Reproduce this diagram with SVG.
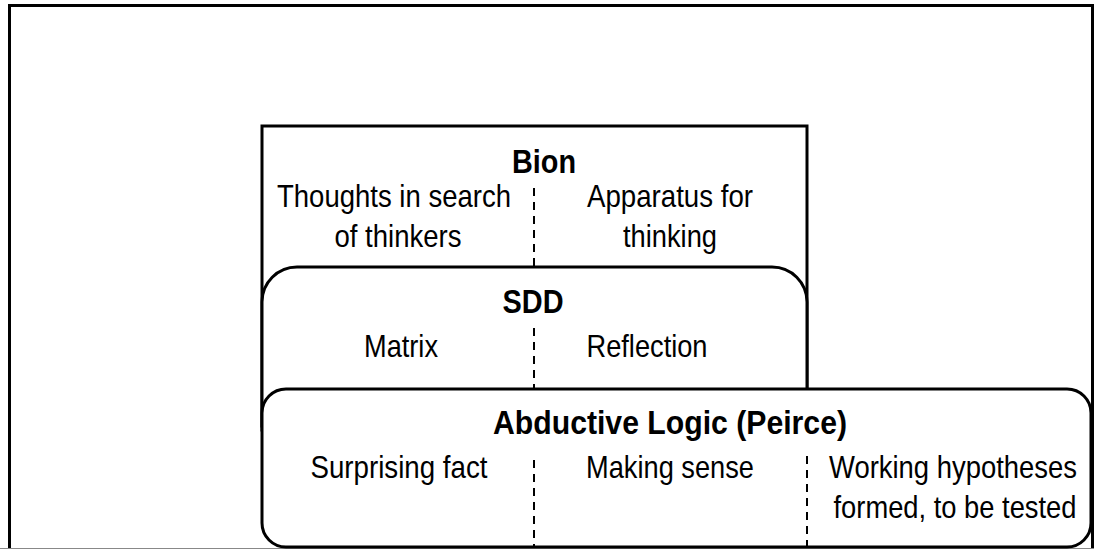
<svg xmlns="http://www.w3.org/2000/svg" width="1094" height="549" viewBox="0 0 1094 549">
<style>
.box{fill:#fff;stroke:#000;stroke-width:3}
.div{stroke:#000;stroke-width:2;stroke-dasharray:8 6;fill:none}
text{font-family:"Liberation Sans",Arial,sans-serif;fill:#000;text-anchor:middle}
.t{font-size:32px}
.h{font-size:33px;font-weight:bold}
</style>
<rect x="0" y="0" width="1094" height="549" fill="#fff"/>
<g id="frame">
<path d="M9.5,549 V5.5 H1092.5 V549" fill="none" stroke="#000" stroke-width="3"/>
<line x1="0" y1="548.5" x2="1094" y2="548.5" stroke="#888" stroke-width="1"/>
</g>
<g id="bion">
<rect class="box" x="262" y="126" width="545" height="300"/>
<text class="h" x="544" y="173" textLength="64" lengthAdjust="spacingAndGlyphs">Bion</text>
<text class="t" x="394" y="207" textLength="234" lengthAdjust="spacingAndGlyphs">Thoughts in search</text>
<text class="t" x="398" y="247" textLength="127" lengthAdjust="spacingAndGlyphs">of thinkers</text>
<text class="t" x="670" y="207" textLength="166" lengthAdjust="spacingAndGlyphs">Apparatus for</text>
<text class="t" x="670" y="247" textLength="94" lengthAdjust="spacingAndGlyphs">thinking</text>
</g>
<g id="sdd">
<path class="box" d="M262,430 V302 A35,35 0 0 1 297,267 H772 A35,35 0 0 1 807,302 V430 Z"/>
<text class="h" x="533" y="313" textLength="61" lengthAdjust="spacingAndGlyphs">SDD</text>
<text class="t" x="401" y="357" textLength="74" lengthAdjust="spacingAndGlyphs">Matrix</text>
<text class="t" x="647" y="357" textLength="121" lengthAdjust="spacingAndGlyphs">Reflection</text>
</g>
<g id="abductive">
<rect class="box" x="262" y="389" width="829" height="158" rx="24" ry="24"/>
<text class="h" x="670" y="434" textLength="354" lengthAdjust="spacingAndGlyphs">Abductive Logic (Peirce)</text>
<text class="t" x="399" y="478" textLength="177" lengthAdjust="spacingAndGlyphs">Surprising fact</text>
<text class="t" x="670" y="478" textLength="168" lengthAdjust="spacingAndGlyphs">Making sense</text>
<text class="t" x="953" y="478" textLength="248" lengthAdjust="spacingAndGlyphs">Working hypotheses</text>
<text class="t" x="955" y="518" textLength="243" lengthAdjust="spacingAndGlyphs">formed, to be tested</text>
</g>
<g id="connectors">
<line class="div" x1="534" y1="188" x2="534" y2="267"/>
<line class="div" x1="534" y1="328" x2="534" y2="388"/>
<line class="div" x1="534" y1="460" x2="534" y2="546"/>
<line class="div" x1="807" y1="456" x2="807" y2="546"/>
</g>
</svg>
